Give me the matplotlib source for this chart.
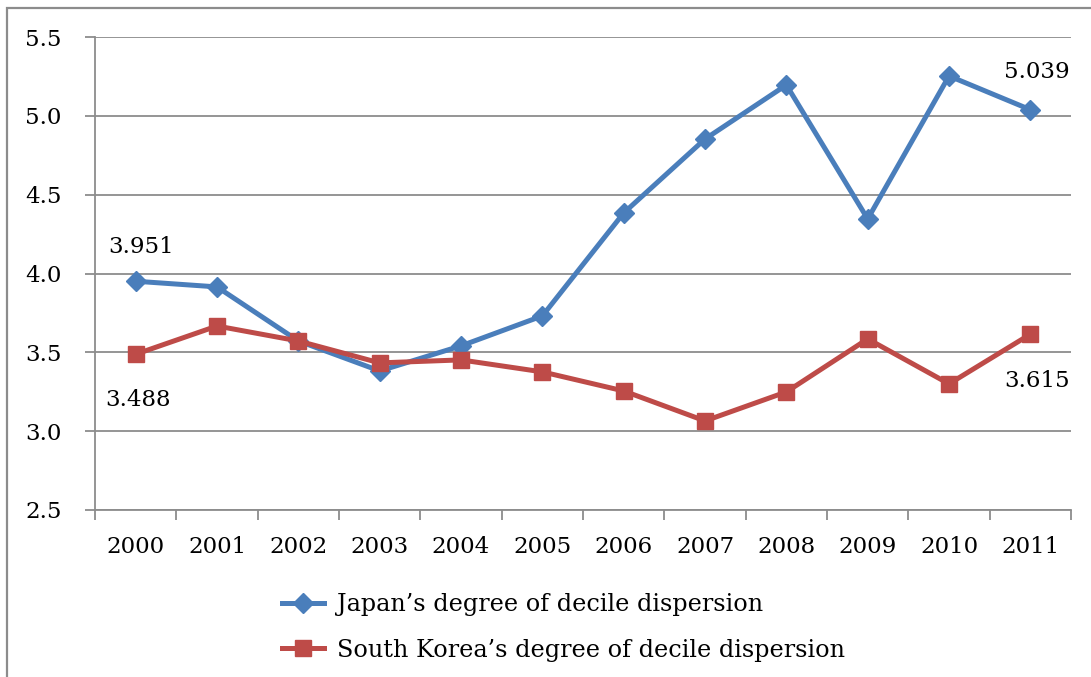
import matplotlib.pyplot as plt
from matplotlib.patches import Rectangle
import numpy as np

years = ["2000", "2001", "2002", "2003", "2004", "2005",
         "2006", "2007", "2008", "2009", "2010", "2011"]
japan = [3.951, 3.915, 3.572, 3.382, 3.541, 3.731,
         4.384, 4.853, 5.196, 4.346, 5.253, 5.039]
korea = [3.488, 3.667, 3.572, 3.433, 3.452, 3.376,
         3.255, 3.065, 3.249, 3.585, 3.300, 3.615]

plt.rcParams["font.family"] = ["DejaVu Serif"]
grey = "#8c8c8c"
blue = "#4a7ebb"
red = "#be4b48"
fs = 16.5

fig = plt.figure(figsize=(10.91, 6.77), dpi=100)
ax = fig.add_axes([0.0871, 0.2467, 0.8946, 0.6986])

x = np.arange(len(years))
ax.plot(x, japan, color=blue, lw=3.6, marker="D", ms=10.5,
        label="Japan\u2019s degree of decile dispersion", zorder=3)
ax.plot(x, korea, color=red, lw=3.6, marker="s", ms=12,
        label="South Korea\u2019s degree of decile dispersion", zorder=3)

# value labels at both ends of each series
ax.annotate(f"{japan[0]:.3f}", (x[0], japan[0]), xytext=(4, 17),
            textcoords="offset points", ha="center", va="bottom", fontsize=fs)
ax.annotate(f"{korea[0]:.3f}", (x[0], korea[0]), xytext=(2, -25),
            textcoords="offset points", ha="center", va="top", fontsize=fs)
ax.annotate(f"{japan[-1]:.3f}", (x[-1], japan[-1]), xytext=(5, 19),
            textcoords="offset points", ha="center", va="bottom", fontsize=fs)
ax.annotate(f"{korea[-1]:.3f}", (x[-1], korea[-1]), xytext=(5, -26),
            textcoords="offset points", ha="center", va="top", fontsize=fs)

ax.set_xlim(-0.5, len(years) - 0.5)
ax.set_ylim(2.5, 5.5)
yt = np.arange(2.5, 5.51, 0.5)
ax.set_yticks(yt)
ax.set_yticklabels([f"{v:.1f}" for v in yt])
ax.set_xticks(np.arange(-0.5, len(years), 1.0))
ax.set_xticklabels([])
ax.set_xticks(x, minor=True)
ax.set_xticklabels(years, minor=True)
ax.tick_params(axis="x", which="major", length=7, width=1.3, color=grey, direction="out")
ax.tick_params(axis="x", which="minor", length=0, pad=19, labelsize=fs)
ax.tick_params(axis="y", length=7, width=1.3, color=grey, direction="out",
               labelsize=fs, pad=17)

ax.grid(axis="y", color=grey, lw=1.3)
ax.set_axisbelow(True)
for side in ["top", "right"]:
    ax.spines[side].set_visible(False)
for side in ["left", "bottom"]:
    ax.spines[side].set_color(grey)
    ax.spines[side].set_linewidth(1.3)

fig.legend(loc="upper left", bbox_to_anchor=(0.25, 0.138), frameon=False,
           fontsize=17.2, handlelength=1.75, handletextpad=0.55, labelspacing=0.95,
           borderaxespad=0)

# chart-area border
fig.patches.append(Rectangle((7 / 1091, -0.1), 1.2, 1 - 8 / 677 + 0.1,
                             transform=fig.transFigure, fill=False,
                             edgecolor=grey, lw=1.6))

fig.savefig("out.png", dpi=100)
